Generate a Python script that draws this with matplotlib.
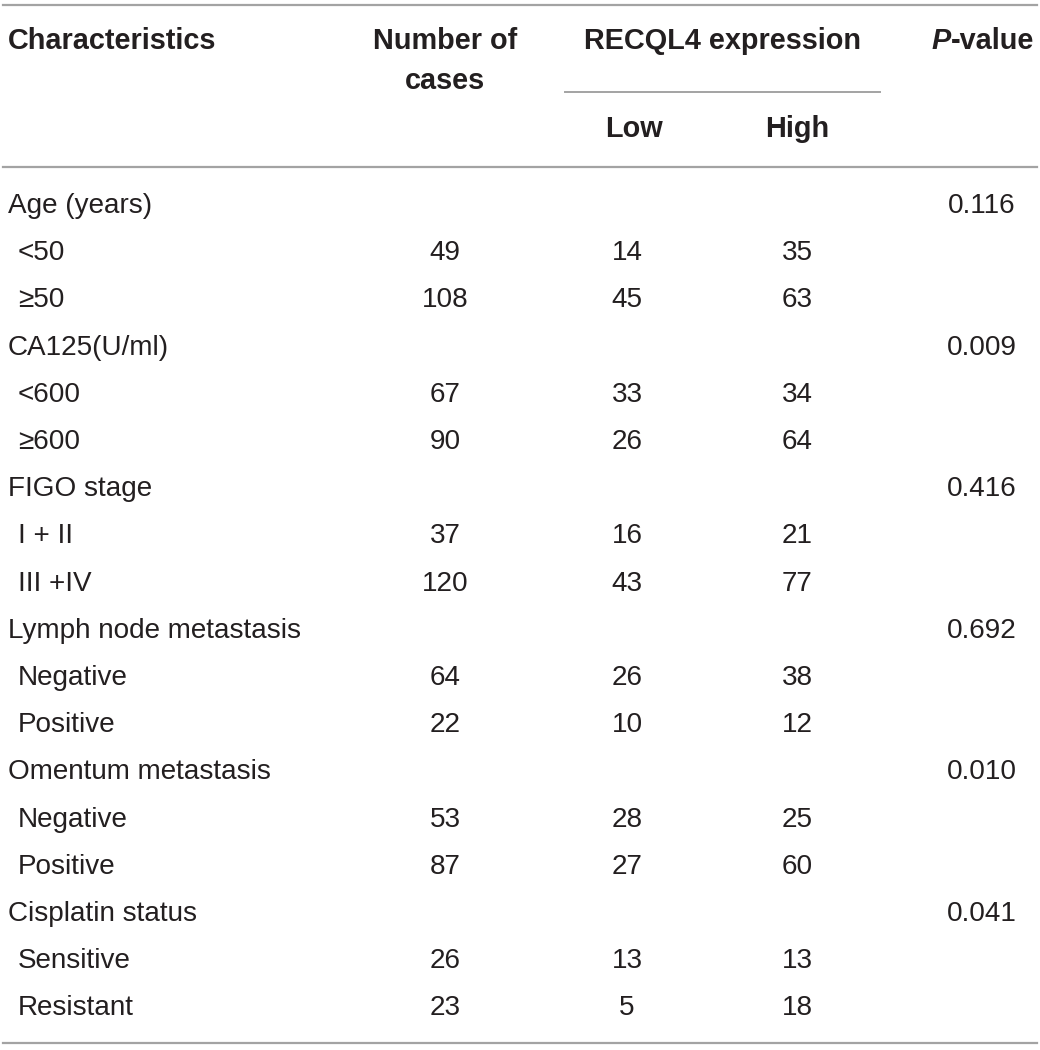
import matplotlib

matplotlib.use("Agg")
import matplotlib.pyplot as plt

# table content
row_labels = [
    "Age (years)", " <50", " \u226550",
    "CA125(U/ml)", " <600", " \u2265600",
    "FIGO stage", " I + II", " III +IV",
    "Lymph node metastasis", " Negative", " Positive",
    "Omentum metastasis", " Negative", " Positive",
    "Cisplatin status", " Sensitive", " Resistant",
]
n_cases = ["", "49", "108", "", "67", "90", "", "37", "120",
           "", "64", "22", "", "53", "87", "", "26", "23"]
low = ["", "14", "45", "", "33", "26", "", "16", "43",
       "", "26", "10", "", "28", "27", "", "13", "5"]
high = ["", "35", "63", "", "34", "64", "", "21", "77",
        "", "38", "12", "", "25", "60", "", "13", "18"]
p_values = ["0.116", "", "", "0.009", "", "", "0.416", "", "",
            "0.692", "", "", "0.010", "", "", "0.041", "", ""]

W, H = 1040, 1050
fig = plt.figure(figsize=(W / 100, H / 100), dpi=100)
ax = fig.add_axes([0, 0, 1, 1])
ax.set_xlim(0, W)
ax.set_ylim(H, 0)
ax.axis("off")

FONT = "Liberation Sans"
FS = 20.1
FS_HEAD = 20.8
TXT = "#231f20"
LINE = "#a3a3a3"

x_lab, x_n, x_low, x_high, x_p = 8, 445, 627, 797, 982

# rules
ax.plot([3, 1037], [5, 5], color=LINE, lw=1.6)
ax.plot([565, 880], [92, 92], color=LINE, lw=1.4)
ax.plot([3, 1037], [167, 167], color=LINE, lw=1.6)
ax.plot([3, 1037], [1043, 1043], color=LINE, lw=1.6)


def put(x, y, s, ha="left", bold=False, style="normal"):
    return ax.text(x, y + 7, s, ha=ha, va="baseline",
                   fontsize=FS_HEAD if bold else FS, family=FONT,
                   color=TXT, fontweight="bold" if bold else "normal",
                   fontstyle=style)


# header
put(x_lab, 42, "Characteristics", bold=True)
put(x_n, 42, "Number of", ha="center", bold=True)
put(x_n, 82, "cases", ha="center", bold=True)
put(722, 42, "RECQL4 expression", ha="center", bold=True)
tail = put(1034, 42, "-value", ha="right", bold=True)
r = fig.canvas.get_renderer()
bb = tail.get_window_extent(renderer=r)
x_tail = ax.transData.inverted().transform((bb.x0, bb.y0))[0]
put(x_tail, 42, "P", ha="right", bold=True, style="italic")
put(634, 130, "Low", ha="center", bold=True)
put(797, 130, "High", ha="center", bold=True)

# body rows
y0, step = 206, 47.2
for i, lab in enumerate(row_labels):
    y = y0 + i * step
    x = x_lab + (10 if lab.startswith(" ") else 0)
    put(x, y, lab.strip())
    put(x_n, y, n_cases[i], ha="center")
    put(x_low, y, low[i], ha="center")
    put(x_high, y, high[i], ha="center")
    put(x_p, y, p_values[i], ha="center")

fig.savefig("out.png", dpi=100)
